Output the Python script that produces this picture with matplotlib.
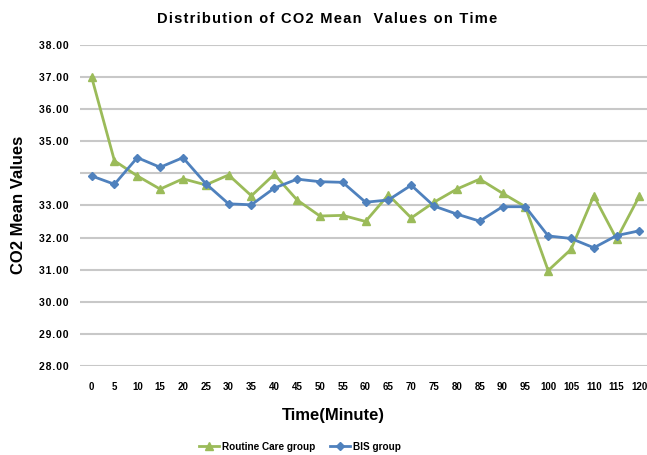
import matplotlib
matplotlib.use('Agg')
import matplotlib.pyplot as plt
import numpy as np

plt.rcParams['font.family'] = ['Liberation Sans', 'DejaVu Sans']

times = [0, 5, 10, 15, 20, 25, 30, 35, 40, 45, 50, 55, 60,
         65, 70, 75, 80, 85, 90, 95, 100, 105, 110, 115, 120]
routine_care = [37.00, 34.39, 33.92, 33.51, 33.83, 33.64, 33.95, 33.30, 33.97,
                33.17, 32.67, 32.69, 32.50, 33.33, 32.61, 33.10, 33.51, 33.82,
                33.38, 32.96, 30.97, 31.63, 33.30, 31.95, 33.30]
bis_group = [33.92, 33.66, 34.49, 34.19, 34.49, 33.68, 33.05, 33.02, 33.54,
             33.82, 33.74, 33.72, 33.10, 33.17, 33.63, 32.98, 32.73, 32.51,
             32.96, 32.96, 32.05, 31.97, 31.68, 32.06, 32.21]
y_ticks = [28, 29, 30, 31, 32, 33, 34, 35, 36, 37, 38]
y_labels = ['28.00', '29.00', '30.00', '31.00', '32.00', '33.00', '',
            '35.00', '36.00', '37.00', '38.00']

green = '#9bbb59'
blue = '#4f81bd'


def spaced(s):
    # crude letter spacing with hair spaces
    return '\u200a'.join(s)


fig = plt.figure(figsize=(6.47, 4.55), dpi=100)
ax = fig.add_axes([0.124, 0.196, 0.882, 0.705])

xpos = np.arange(len(times))
ax.plot(xpos, routine_care, color=green, lw=2, marker='^', ms=6,
        label='Routine Care group')
ax.plot(xpos, bis_group, color=blue, lw=2, marker='D', ms=4.5,
        label='BIS group')

ax.set_xlim(-0.5, len(times) - 0.5)
ax.set_ylim(28, 38)
ax.set_yticks(y_ticks)
ax.set_yticklabels([spaced(l) for l in y_labels], fontsize=7.5,
                   fontweight='bold')
ax.set_xticks(xpos)
ax.set_xticklabels([str(t) for t in times], fontsize=7, fontweight='bold')
ax.tick_params(length=0)
ax.tick_params(axis='y', pad=8.5)
ax.tick_params(axis='x', pad=12)
ax.grid(axis='y', color='#c8c8c8', lw=1.5)
ax.set_axisbelow(True)
for s in ax.spines.values():
    s.set_visible(False)

fig.text(0.505, 0.958, spaced('Distribution of CO2 Mean  Values on Time'),
         ha='center', va='center', fontsize=10.5, fontweight='bold')
fig.text(0.516, 0.086, 'Time(Minute)', ha='center', va='center',
         fontsize=12, fontweight='bold')
fig.text(0.028, 0.55, 'CO2 Mean Values', ha='center', va='center',
         rotation=90, fontsize=12, fontweight='bold')

fig.legend(loc='center', bbox_to_anchor=(0.464, 0.018), ncol=2, frameon=False,
           prop={'size': 7.2, 'weight': 'bold'}, handlelength=2.0,
           columnspacing=1.5, handletextpad=0.3)

fig.savefig('out.png', dpi=100)
